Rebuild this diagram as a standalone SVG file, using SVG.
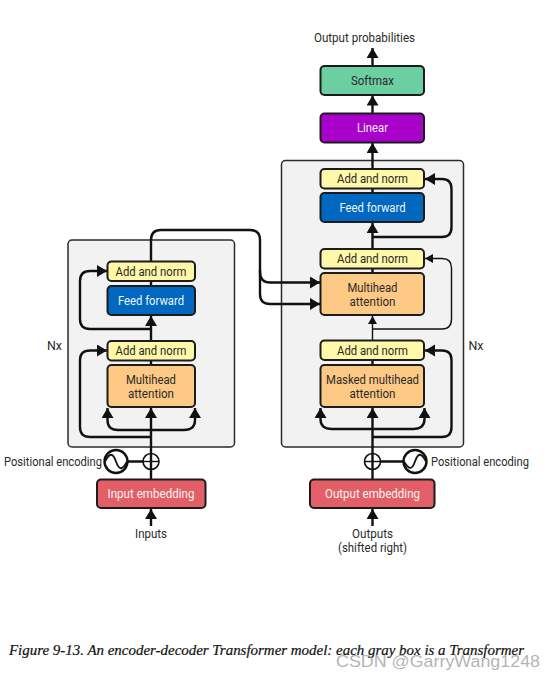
<svg xmlns="http://www.w3.org/2000/svg" width="555" height="680" viewBox="0 0 555 680">
<style>
.gray{fill:#f2f2f2;stroke:#2b2b2b;stroke-width:1.5}
.b{stroke:#1c1c1c;stroke-width:2}
.an{fill:#fef8a8}.ff{fill:#0068c0}.ma{fill:#fec985}.em{fill:#e35f68}.sm{fill:#6ccfa1}.li{fill:#aa00cc}
text{font-family:Roboto,"Liberation Sans",sans-serif;font-size:12.5px;fill:#2a2a2a;text-anchor:middle}
.w{fill:#f4f4f4}
.c{fill:none;stroke:#111;stroke-width:2.4}
.t{fill:none;stroke:#111;stroke-width:1.4}
.si{fill:none;stroke:#111;stroke-width:1.8}
.cap{font-family:"Liberation Serif",serif;font-style:italic;font-size:14px;fill:#111;stroke:#111;stroke-width:.2;text-anchor:start}
.wm{font-family:"Liberation Sans",sans-serif;font-size:17px;fill:#9a9a9a;fill-opacity:.75;text-anchor:start}
</style>
<defs>
<marker id="a" markerUnits="userSpaceOnUse" markerWidth="13" markerHeight="13" refX="10" refY="6" orient="auto"><polygon points="0,0 10,6 0,12" fill="#111"/></marker>
<marker id="s" markerUnits="userSpaceOnUse" markerWidth="11" markerHeight="11" refX="8" refY="4.500" orient="auto"><polygon points="0,0 8,4.500 0,9" fill="#111"/></marker>
</defs>
<rect class="gray" x="68" y="240" width="166.500" height="207" rx="4"/>
<rect class="gray" x="281.500" y="160.500" width="182" height="286.500" rx="4"/>
<g id="connectors">
<path class="c" d="M151 479V408" marker-end="url(#a)"/>
<path class="c" d="M151 437H90Q80 437 80 427V360Q80 350.500 90 350.500H107" marker-end="url(#a)"/>
<path class="c" d="M151 430H118Q107.500 430 107.500 420V408" marker-end="url(#a)"/>
<path class="c" d="M151 430H184Q195 430 195 420V408" marker-end="url(#a)"/>
<path class="c" d="M151 341V316" marker-end="url(#a)"/>
<path class="c" d="M151 329H90Q80 329 80 319V281Q80 271 90 271H107" marker-end="url(#a)"/>
<path class="c" d="M151 286V281"/>
<path class="c" d="M151 360V365"/>
<path class="c" d="M151 261V240Q151 230 161 230H250Q260 230 260 240V272Q260 282.500 270 282.500H320" marker-end="url(#a)"/>
<path class="c" d="M260 270V294Q260 304 270 304H320" marker-end="url(#a)"/>
<path class="c" d="M372.500 479V408" marker-end="url(#a)"/>
<path class="c" d="M372.500 429H332Q320.500 429 320.500 419V408" marker-end="url(#a)"/>
<path class="c" d="M372.500 429H413Q424.500 429 424.500 419V408" marker-end="url(#a)"/>
<path class="c" d="M372.500 437H442Q451.500 437 451.500 427V360Q451.500 350.500 442 350.500H425" marker-end="url(#a)"/>
<path class="t" d="M372.500 340V316" marker-end="url(#s)"/>
<path class="t" d="M372.500 329H442Q451.500 329 451.500 319V268Q451.500 258.500 442 258.500H425" marker-end="url(#s)"/>
<path class="c" d="M372.500 249V223" marker-end="url(#a)"/>
<path class="c" d="M372.500 237H442Q451.500 237 451.500 227V189Q451.500 179 442 179H425" marker-end="url(#a)"/>
<path class="c" d="M372.500 169V143" marker-end="url(#a)"/>
<path class="c" d="M372.500 113V95.500" marker-end="url(#a)"/>
<path class="c" d="M372.500 65V48" marker-end="url(#a)"/>
<path class="c" d="M372.500 188V193M372.500 268V273M372.500 360V365"/>
<path class="c" d="M151 526V509" marker-end="url(#a)"/>
<path class="c" d="M372.500 526V509" marker-end="url(#a)"/>
<path class="c" d="M128 461.500H143M381 461.500H403"/>
</g>
<g id="enc-addnorm2"><rect class="an b" x="107.500" y="261.500" width="87.500" height="19.500" rx="4"/><text x="151" y="275.500" textLength="71" lengthAdjust="spacingAndGlyphs">Add and norm</text></g>
<g id="enc-ff"><rect class="ff b" x="107.500" y="286" width="87.500" height="29" rx="4"/><text class="w" x="151" y="305" textLength="66" lengthAdjust="spacingAndGlyphs">Feed forward</text></g>
<g id="enc-addnorm1"><rect class="an b" x="107.500" y="341" width="87.500" height="19.500" rx="4"/><text x="151" y="355" textLength="71" lengthAdjust="spacingAndGlyphs">Add and norm</text></g>
<g id="enc-mha"><rect class="ma b" x="107.500" y="365" width="87.500" height="42" rx="4"/><text x="151" y="383.700" textLength="50" lengthAdjust="spacingAndGlyphs">Multihead</text><text x="151" y="398.400" textLength="46" lengthAdjust="spacingAndGlyphs">attention</text></g>
<g id="enc-embed"><rect class="em b" x="97" y="479.500" width="108.500" height="28.500" rx="4"/><text class="w" x="151" y="498" textLength="87" lengthAdjust="spacingAndGlyphs">Input embedding</text></g>
<g id="softmax"><rect class="sm b" x="320.500" y="66" width="103.500" height="29" rx="4"/><text x="372.500" y="84.500" textLength="43" lengthAdjust="spacingAndGlyphs">Softmax</text></g>
<g id="linear"><rect class="li b" x="320.500" y="113.500" width="103.500" height="29" rx="4"/><text class="w" x="372.500" y="132" textLength="31" lengthAdjust="spacingAndGlyphs">Linear</text></g>
<g id="dec-addnorm3"><rect class="an b" x="320.500" y="169" width="103.500" height="19.500" rx="4"/><text x="372.500" y="183" textLength="71" lengthAdjust="spacingAndGlyphs">Add and norm</text></g>
<g id="dec-ff"><rect class="ff b" x="320.500" y="193" width="103.500" height="29" rx="4"/><text class="w" x="372.500" y="212" textLength="66" lengthAdjust="spacingAndGlyphs">Feed forward</text></g>
<g id="dec-addnorm2"><rect class="an b" x="320.500" y="249" width="103.500" height="19.500" rx="4"/><text x="372.500" y="263" textLength="71" lengthAdjust="spacingAndGlyphs">Add and norm</text></g>
<g id="dec-mha"><rect class="ma b" x="320.500" y="273" width="103.500" height="42" rx="4"/><text x="372.500" y="291.700" textLength="50" lengthAdjust="spacingAndGlyphs">Multihead</text><text x="372.500" y="306.400" textLength="46" lengthAdjust="spacingAndGlyphs">attention</text></g>
<g id="dec-addnorm1"><rect class="an b" x="320.500" y="340.500" width="103.500" height="19.500" rx="4"/><text x="372.500" y="354.500" textLength="71" lengthAdjust="spacingAndGlyphs">Add and norm</text></g>
<g id="dec-mmha"><rect class="ma b" x="320.500" y="365" width="103.500" height="42" rx="4"/><text x="372.500" y="383.700" textLength="93" lengthAdjust="spacingAndGlyphs">Masked multihead</text><text x="372.500" y="398.400" textLength="46" lengthAdjust="spacingAndGlyphs">attention</text></g>
<g id="dec-embed"><rect class="em b" x="310" y="479.500" width="124.500" height="28.500" rx="4"/><text class="w" x="372.500" y="498" textLength="95" lengthAdjust="spacingAndGlyphs">Output embedding</text></g>
<g id="enc-pos"><circle cx="116" cy="461.500" r="11.500" fill="#fff" stroke="#111" stroke-width="2.400"/><path class="si" d="M105 461.500C110 452 113 453 116 461.500S122 471 127 461.500"/><text x="53" y="465.500" textLength="98" lengthAdjust="spacingAndGlyphs">Positional encoding</text></g>
<g id="enc-add"><circle cx="151" cy="461.500" r="8" fill="none" stroke="#111" stroke-width="1.600"/><path class="t" d="M143 461.500H159"/></g>
<g id="dec-pos"><circle cx="415" cy="461.500" r="11.500" fill="#fff" stroke="#111" stroke-width="2.400"/><path class="si" d="M404 461.500C409 470 412 470 415 461.500S421 452 426 461.500"/><text x="480" y="465.500" textLength="98" lengthAdjust="spacingAndGlyphs">Positional encoding</text></g>
<g id="dec-add"><circle cx="372.500" cy="461.500" r="8" fill="none" stroke="#111" stroke-width="1.600"/><path class="t" d="M364.500 461.500H380.500"/></g>
<g id="labels">
<text x="54.500" y="350" textLength="15" lengthAdjust="spacingAndGlyphs">Nx</text>
<text x="476" y="350" textLength="15" lengthAdjust="spacingAndGlyphs">Nx</text>
<text x="151" y="538" textLength="32" lengthAdjust="spacingAndGlyphs">Inputs</text>
<text x="372.500" y="537.500" textLength="41" lengthAdjust="spacingAndGlyphs">Outputs</text>
<text x="372.500" y="552.200" textLength="69" lengthAdjust="spacingAndGlyphs">(shifted right)</text>
<text x="364.500" y="42" textLength="101" lengthAdjust="spacingAndGlyphs">Output probabilities</text>
</g>
<text class="cap" x="9" y="655" textLength="515" lengthAdjust="spacingAndGlyphs">Figure 9-13. An encoder-decoder Transformer model: each gray box is a Transformer</text>
<text class="wm" x="336" y="667" textLength="204" lengthAdjust="spacingAndGlyphs">CSDN @GarryWang1248</text>
</svg>
